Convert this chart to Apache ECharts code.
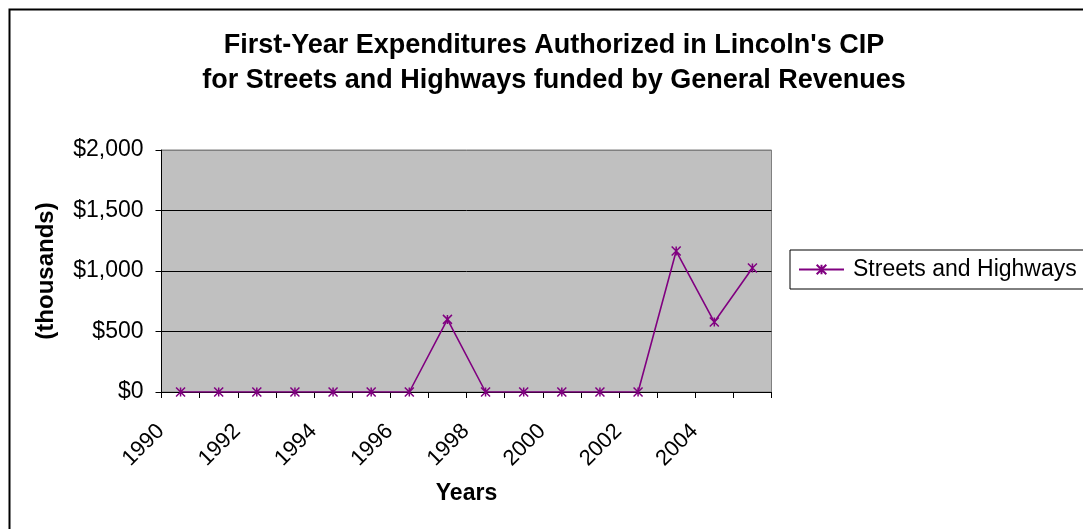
<!DOCTYPE html>
<html>
<head>
<meta charset="utf-8">
<script src="https://cdn.jsdelivr.net/npm/echarts@6/dist/echarts.min.js"></script>
<style>
html,body{margin:0;padding:0;background:#fff;}
#chart{width:1083px;height:529px;}
</style>
</head>
<body>
<div id="chart"></div>
<script>
const categories = ['1990','1991','1992','1993','1994','1995','1996','1997','1998','1999','2000','2001','2002','2003','2004','2005'];
const streetsHighways = [0,0,0,0,0,0,0,600,0,0,0,0,0,1165,578,1025];
const yTicks = [0, 500, 1000, 1500, 2000];
const titleLines = ["First-Year Expenditures Authorized in Lincoln's CIP", "for Streets and Highways funded by General Revenues"];
const seriesName = 'Streets and Highways';

const FONT = '"Liberation Sans", Arial, sans-serif';
const star = 'path://M5,0L5,10M0,0L10,10M0,10L10,0';

const chart = echarts.init(document.getElementById('chart'), null, {renderer:'canvas'});
chart.setOption({
  animation:false,
  backgroundColor:'#fff',
  graphic:[{
    type:'rect', left:7, top:7, shape:{width:1200, height:700},
    style:{fill:'none', stroke:'#000', lineWidth:2}, silent:true, z:-1
  }],
  title:{
    text: titleLines.join('\n'),
    left: 549, top: 23, textAlign:'center',
    textStyle:{fontFamily:FONT, fontWeight:'bold', fontSize:27, lineHeight:35, color:'#000'}
  },
  legend:{
    left:790, top:250,
    padding:[8,10,8,8],
    borderColor:'#000', borderWidth:1,
    itemWidth:45, itemHeight:12,
    textStyle:{fontFamily:FONT, fontSize:23, color:'#000', padding:[0,0,0,4]},
    data:[seriesName]
  },
  grid:{
    left:161.5, right:311.5, top:150, bottom:137,
    show:true, backgroundColor:'#C0C0C0', borderColor:'#808080', borderWidth:1,
    containLabel:false
  },
  xAxis:{
    type:'category', data:categories, boundaryGap:true,
    name:'Years', nameLocation:'middle', nameGap:90,
    nameTextStyle:{fontFamily:FONT, fontWeight:'bold', fontSize:23, color:'#000'},
    axisLine:{show:true, lineStyle:{color:'#000', width:1}},
    axisTick:{show:true, interval:0, length:6, inside:false, lineStyle:{color:'#000'}},
    axisLabel:{interval:1, rotate:45, margin:16, padding:[0,28,0,0],
      fontFamily:FONT, fontSize:22, color:'#000'},
    splitLine:{show:false}
  },
  yAxis:{
    type:'value', min:yTicks[0], max:yTicks[yTicks.length-1], interval:500,
    name:'(thousands)', nameLocation:'middle', nameGap:103, nameRotate:90,
    nameTextStyle:{fontFamily:FONT, fontWeight:'bold', fontSize:24, color:'#000'},
    axisLine:{show:true, lineStyle:{color:'#000', width:1}},
    axisTick:{show:true, length:6, lineStyle:{color:'#000'}},
    axisLabel:{margin:18, fontFamily:FONT, fontSize:23, color:'#000',
      formatter: v => '$' + v.toLocaleString('en-US')},
    splitLine:{show:true, lineStyle:{color:['#000','#000','#000','#000','#808080'], width:1}}
  },
  series:[{
    name:seriesName, type:'line', data:streetsHighways,
    symbol:star, symbolSize:9, showSymbol:true,
    lineStyle:{color:'#800080', width:1.6},
    itemStyle:{color:'#800080', borderColor:'#800080', borderWidth:1.5}
  }]
});
</script>
</body>
</html>
